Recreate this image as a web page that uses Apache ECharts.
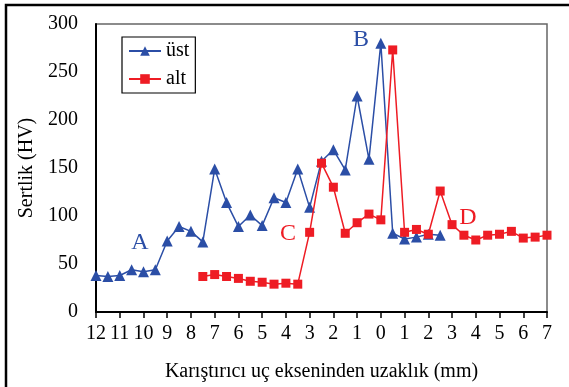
<!DOCTYPE html>
<html><head><meta charset="utf-8">
<script src="https://cdn.jsdelivr.net/npm/echarts@6/dist/echarts.min.js"></script>
<style>html,body{margin:0;padding:0;background:#fff}#c{width:569px;height:387px}</style>
</head><body><div id="c"></div>
<script>
const ustX = [-12,-11.5,-11,-10.5,-10,-9.5,-9,-8.5,-8,-7.5,-7,-6.5,-6,-5.5,-5,-4.5,-4,-3.5,-3,-2.5,-2,-1.5,-1,-0.5,0,0.5,1,1.5,2,2.5];
const ustY = [38,37,38,44,42,44,74,89,84,73,149,114,89,101,90,119,114,149,109,157,169,148,225,159,280,82,76,78,81,80];
const altX = [-7.5,-7,-6.5,-6,-5.5,-5,-4.5,-4,-3.5,-3,-2.5,-2,-1.5,-1,-0.5,0,0.5,1,1.5,2,2.5,3,3.5,4,4.5,5,5.5,6,6.5,7];
const altY = [37,39,37,35,32,31,29,30,29,83,155,130,82,93,102,96,273,83,86,81,126,91,80,75,80,81,84,77,78,80];
const seriesNames = ['üst','alt'];
const xTitle = 'Karıştırıcı uç ekseninden uzaklık (mm)';
const yTitle = 'Sertlik (HV)';
const regionLabels = ['A','B','C','D'];

const blue = '#2B4EA6', red = '#EE1C24';
const font = 'Liberation Serif';
const chart = echarts.init(document.getElementById('c'));
chart.setOption({
  animation:false,
  textStyle:{fontFamily:font},
  grid:{left:96,top:24,right:22,bottom:71,show:true,borderColor:'#666',borderWidth:1.5},
  legend:{
    show:true, orient:'vertical', left:122, top:37, padding:[4,6,4,6],
    borderColor:'#000', borderWidth:1.2, itemWidth:32, itemHeight:12, itemGap:8,
    textStyle:{fontFamily:font,fontSize:20,color:'#000'},
    data:seriesNames
  },
  xAxis:{
    type:'value', min:-12, max:7, interval:1,
    name:xTitle, nameLocation:'middle', nameGap:50,
    nameTextStyle:{fontFamily:font,fontSize:20,color:'#000'},
    axisLine:{onZero:false,lineStyle:{color:'#000',width:2}},
    axisTick:{show:true,length:6,lineStyle:{color:'#000',width:1.5}},
    axisLabel:{fontFamily:font,fontSize:20,color:'#000',margin:12,formatter:v=>String(Math.abs(v))},
    splitLine:{show:false}
  },
  yAxis:{
    type:'value', min:0, max:300, interval:50,
    name:yTitle, nameLocation:'middle', nameGap:58, nameRotate:90,
    nameTextStyle:{fontFamily:font,fontSize:20,color:'#000'},
    axisLine:{show:true,onZero:false,lineStyle:{color:'#000',width:2}},
    axisTick:{show:false},
    axisLabel:{fontFamily:font,fontSize:20,color:'#000',margin:18},
    splitLine:{show:false}
  },
  series:[
    {name:seriesNames[0],type:'line',data:ustX.map((x,i)=>[x,ustY[i]]),
     symbol:'triangle',symbolSize:11,itemStyle:{color:blue},lineStyle:{color:blue,width:1.5},z:2},
    {name:seriesNames[1],type:'line',data:altX.map((x,i)=>[x,altY[i]]),
     symbol:'rect',symbolSize:9,itemStyle:{color:red},lineStyle:{color:red,width:1.5},z:3}
  ],
  graphic:[
    {type:'rect',shape:{x:6,y:5,width:600,height:420},style:{fill:null,stroke:'#000',lineWidth:2.5},silent:true},
    {type:'text',x:140,y:243,style:{text:regionLabels[0],fill:blue,font:'24px "Liberation Serif"',align:'center',verticalAlign:'middle'}},
    {type:'text',x:361,y:40,style:{text:regionLabels[1],fill:blue,font:'24px "Liberation Serif"',align:'center',verticalAlign:'middle'}},
    {type:'text',x:288,y:234,style:{text:regionLabels[2],fill:red,font:'24px "Liberation Serif"',align:'center',verticalAlign:'middle'}},
    {type:'text',x:468,y:218,style:{text:regionLabels[3],fill:red,font:'24px "Liberation Serif"',align:'center',verticalAlign:'middle'}}
  ]
});
</script></body></html>
